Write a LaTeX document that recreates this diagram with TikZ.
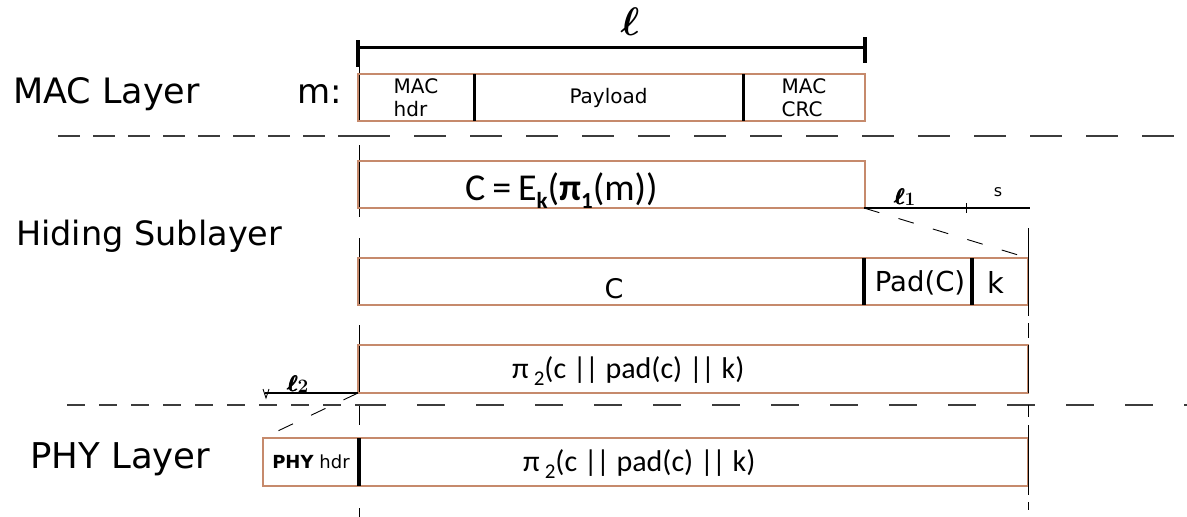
\documentclass[tikz,border=0pt]{standalone}
\usepackage{fontspec}
\usepackage{amsmath}
\setmainfont{DejaVu Sans}
\newfontfamily\calfont{Carlito}
\definecolor{boxbrown}{RGB}{198,138,108}
\definecolor{sepgray}{RGB}{60,60,60}
\newcommand{\fs}[1]{\fontsize{#1}{#1}\selectfont}
\newcommand{\fsl}[2]{\fontsize{#1}{#2}\selectfont}
\newcommand{\dbar}{|\kern-0.06em|}
\newcommand{\ellsub}[1]{\scalebox{1.3}{$\pmb{\boldsymbol{\ell}}$}\kern-0.05em\raisebox{-0.05em}{\scalebox{1.1}{$\boldsymbol{#1}$}}}
\begin{document}
\begin{tikzpicture}[x=1pt,y=-1pt,
  field/.style={draw=boxbrown, line width=1.1pt, inner sep=0pt, outer sep=0pt, anchor=north west},
  divider/.style={line width=3.5pt, black},
  layer/.style={anchor=base west, inner sep=0pt},
  sepline/.style={draw=sepgray, line width=1.5pt},
  guide/.style={line width=1pt, black},
  diag/.style={line width=0.9pt, black, dash pattern=on 16pt off 20pt},
  lab/.style={inner sep=0pt}]
\useasboundingbox (0,0) rectangle (1187,517);

% vertical guides (drawn first, boxes go on top)
\foreach \a/\b in {67/122,145/217,238/305,325/393,406/425,508/517}
  \draw[guide] (359,\a) -- (359,\b);

% layer separators
\draw[sepline, dash pattern=on 22pt off 13pt] (58,136) -- (358,136);
\draw[sepline, dash pattern=on 32pt off 24pt] (358,136) -- (1187,136);
\draw[sepline, dash pattern=on 18pt off 14pt] (67,405) -- (358,405);
\draw[sepline, dash pattern=on 28pt off 31pt] (358,405) -- (1187,405);

% layer labels
\node[layer, font=\fs{35}] (maclayer) at (13,103) {MAC Layer};
\node[layer, font=\fs{34}] (m) at (297,103) {m:};
\node[layer, font=\fs{33.5}] (hiding) at (16,245) {Hiding Sublayer};
\node[layer, font=\fs{35.5}] (phylayer) at (30,468) {PHY Layer};

% MAC frame
\node[field, minimum width=116pt, minimum height=47pt] (machdr) at (358,74) {};
\node[field, minimum width=269pt, minimum height=47pt] (payload) at (474,74) {};
\node[field, minimum width=122pt, minimum height=47pt] (maccrc) at (743,74) {};
\node[lab, align=left, font={\fsl{20}{23}}] at (machdr.center) {MAC\\hdr};
\node[lab, font=\fs{20}] at (payload.center) {Payload};
\node[lab, align=left, font={\fsl{20}{23}}] at (maccrc.center) {MAC\\CRC};
\draw[divider, line width=3pt] (payload.north west) -- (payload.south west);
\draw[divider, line width=3pt] (maccrc.north west) -- (maccrc.south west);

% length bracket
\coordinate (lL) at (358,47);
\coordinate (lR) at (865,47);
\draw[line width=3pt] (lL) -- (lR);
\draw[line width=3.5pt] (358,40) -- (358,67);
\draw[line width=3.5pt] (865,37) -- (865,63);
\node[lab, font=\fs{24}] (ell) at (630,22) {\scalebox{1.6}{$\boldsymbol{\ell}$}};

% hiding sublayer: encryption
\node[field, minimum width=507pt, minimum height=47pt] (cipher) at (358,161) {};
\node[lab, anchor=base west, font={\calfont\fs{38}}] (ctext) at (465,200)
  {C\kern0.18em=\kern0.18emE\raisebox{-0.22em}{\fs{23}\bfseries k}(\textbf{π}\raisebox{-0.22em}{\fs{23}\bfseries 1}(m))};

% padding and key lengths
\coordinate (l1a) at (864,208);
\coordinate (l1b) at (1030,208);
\draw[line width=1.1pt] (l1a) -- (l1b);
\draw[line width=0.9pt] (966,203) -- (966,213);
\node[lab, font=\fs{16}] (ell1) at (905,197) {\ellsub{1}};
\node[lab, font=\fs{16}] (s) at (998,192) {s};

% hiding sublayer: padded frame
\node[field, minimum width=506pt, minimum height=47pt] (cbox) at (358,258) {};
\node[field, minimum width=108pt, minimum height=47pt] (padbox) at (864,258) {};
\node[field, minimum width=56pt, minimum height=47pt] (kbox) at (972,258) {};
\node[lab, font=\fs{27}] at (614,289) {C};
\node[lab, font=\fs{27.5}] at ([xshift=2pt,yshift=-1pt]padbox.center) {Pad(C)};
\node[lab, font=\fs{29}] at ([xshift=-4pt,yshift=-1pt]kbox.center) {k};
\draw[divider] (padbox.north west) -- (padbox.south west);
\draw[divider] (kbox.north west) -- (kbox.south west);
\draw[diag] (l1a) -- (kbox.north east);

% permuted frame
\node[field, minimum width=670pt, minimum height=48pt] (perm) at (358,345) {};
\node[lab, anchor=base west, font={\calfont\fs{30}}] (ptext) at (512,378)
  {π\,\raisebox{-0.25em}{\fs{21}2}(c \dbar{} pad(c) \dbar{} k)};

% PHY header length
\coordinate (l2a) at (265,393);
\draw[line width=1.1pt] (l2a) -- (perm.south west);
\draw[line width=0.8pt] (263,389) -- (266,398) -- (269,389);
\node[lab, font=\fs{16}] (ell2) at (298,384) {\ellsub{2}};

% PHY frame
\node[field, minimum width=96pt, minimum height=48pt] (phyhdr) at (263,438) {};
\node[field, minimum width=669pt, minimum height=48pt] (phypay) at (359,438) {};
\node[lab, font=\fs{18}] at (phyhdr.center) {\textbf{PHY} hdr};
\node[lab, anchor=base west, font={\calfont\fs{30}}] (ptext2) at (523,471)
  {π\,\raisebox{-0.25em}{\fs{21}2}(c \dbar{} pad(c) \dbar{} k)};
\draw[divider] (phypay.north west) -- (phypay.south west);
\draw[diag] (perm.south west) -- (phyhdr.north west);

% right-hand guide
\foreach \a/\b in {228/316,323/338,345/393,425/495,502/510}
  \draw[guide] (1028,\a) -- (1028,\b);
\draw[guide] (1028,405) -- (1028,417);
\end{tikzpicture}
\end{document}
